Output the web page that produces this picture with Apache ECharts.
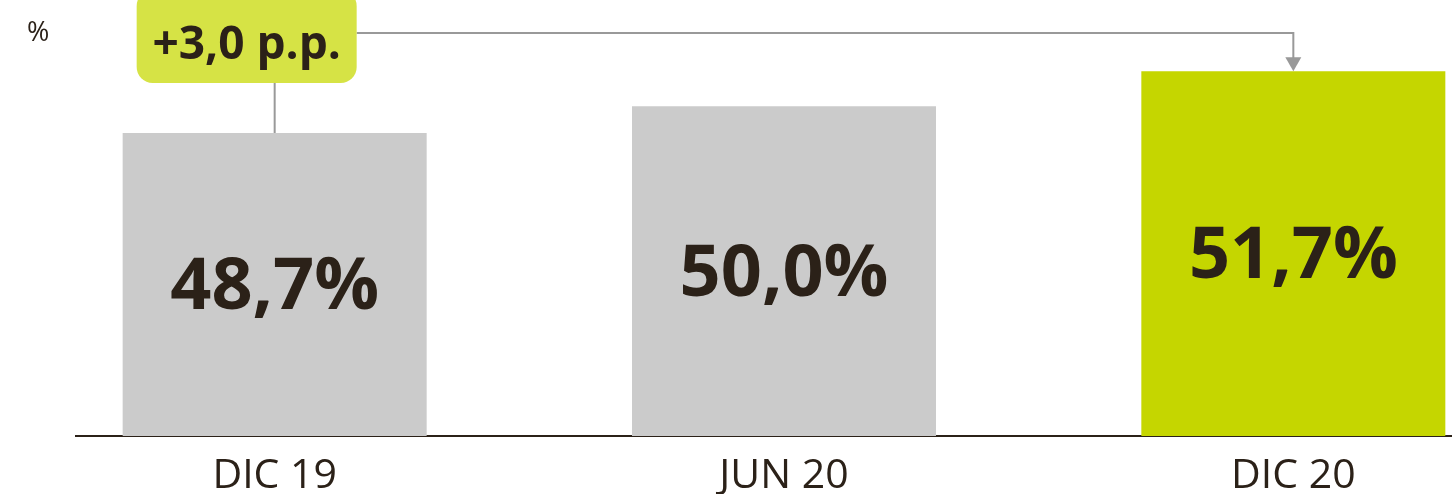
<!DOCTYPE html>
<html><head><meta charset="utf-8">
<script src="https://cdn.jsdelivr.net/npm/echarts@6/dist/echarts.min.js"></script>
<style>html,body{margin:0;padding:0;background:#fff}#c{width:1452px;height:494px}</style>
</head><body><div id="c"></div>
<script>
const categories = ['DIC 19', 'JUN 20', 'DIC 20'];
const values = [48.7, 50.0, 51.7];
const valueLabels = ['48,7%', '50,0%', '51,7%'];
const changeLabel = '+3,0 p.p.';
const unitLabel = '%';

const dark = '#2b2118';
const grey = '#cbcbcb';
const lime = '#c5d600';
const font = '"Open Sans", "Noto Sans", sans-serif';

const chart = echarts.init(document.getElementById('c'), null, {renderer: 'canvas'});
chart.setOption({
  animation: false,
  grid: {left: 20, right: -96, top: 30, bottom: 58, outerBoundsMode: 'none', containLabel: false},
  xAxis: {
    type: 'category', data: categories,
    axisLine: {show: false}, axisTick: {show: false},
    axisLabel: {fontSize: 41, color: dark, fontFamily: font, margin: 20}
  },
  yAxis: {type: 'value', min: 34, max: 53.7, show: false, splitLine: {show: false}},
  series: [{
    type: 'bar', barWidth: 304,
    data: values.map((v, i) => ({value: v, itemStyle: {color: i === values.length - 1 ? lime : grey}})),
    label: {
      show: true, position: 'inside', offset: [0, 4],
      formatter: p => valueLabels[p.dataIndex],
      fontSize: 72, fontWeight: 'bold', color: dark, fontFamily: font
    }
  }]
});

const first = chart.convertToPixel({seriesIndex: 0}, [0, values[0]]);
const last = chart.convertToPixel({seriesIndex: 0}, [values.length - 1, values[values.length - 1]]);
const base = chart.convertToPixel({seriesIndex: 0}, [0, 34]);
const lineY = 33;
const boxW = 220, boxH = 83;
const boxX = first[0] - 138;
chart.setOption({
  graphic: [
    {type: 'line', shape: {x1: 75, y1: base[1], x2: 1452, y2: base[1]}, style: {stroke: dark, lineWidth: 2}},
    {type: 'text', left: 27, top: 20, style: {text: unitLabel, fontSize: 27, fill: dark, fontFamily: font}},
    {type: 'line', shape: {x1: first[0], y1: boxH, x2: first[0], y2: first[1]}, style: {stroke: '#999', lineWidth: 2}},
    {type: 'polyline', shape: {points: [[boxX + boxW, lineY], [last[0], lineY], [last[0], last[1] - 12]]}, style: {stroke: '#999', lineWidth: 2, fill: null}},
    {type: 'polygon', shape: {points: [[last[0] - 8, last[1] - 14], [last[0] + 8, last[1] - 14], [last[0], last[1]]]}, style: {fill: '#999'}},
    {type: 'rect', shape: {x: boxX, y: -10, width: boxW, height: boxH + 10, r: 16}, style: {fill: '#d6e345'}},
    {type: 'text', x: boxX + boxW / 2, y: 46, style: {text: changeLabel, fontSize: 46, fontWeight: 'bold', fill: dark, fontFamily: font, align: 'center', verticalAlign: 'middle'}}
  ]
});
</script></body></html>
